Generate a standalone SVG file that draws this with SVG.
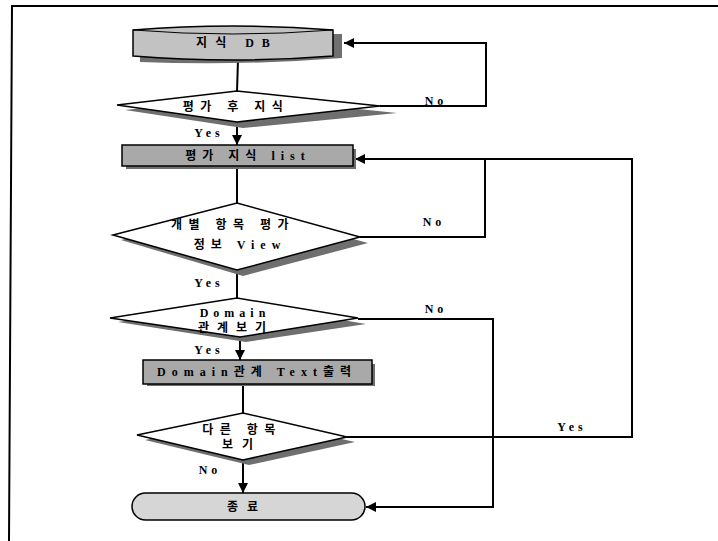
<svg xmlns="http://www.w3.org/2000/svg" width="718" height="541" viewBox="0 0 718 541">
<defs>
<style>
.ln{fill:none;stroke:#000;stroke-width:2}
.sh{fill:#6f6f6f;stroke:none}
.dm{fill:#fff;stroke:#000;stroke-width:1.5}
.bx{fill:#a9a9a9;stroke:#000;stroke-width:1.5}
.t{font-family:"Liberation Serif","Noto Sans CJK KR",serif;font-weight:bold;font-size:12px;fill:#000;text-anchor:middle;letter-spacing:6.5px}
.l{font-family:"Liberation Serif","Noto Sans CJK KR",serif;font-weight:bold;font-size:12px;fill:#000;text-anchor:middle;letter-spacing:4px}
</style>
<marker id="ah" viewBox="0 0 10 10" refX="10" refY="5" markerWidth="10" markerHeight="10" markerUnits="userSpaceOnUse" orient="auto">
<path d="M0,0 L10,5 L0,10 Z" fill="#000"/>
</marker>
</defs>
<rect width="718" height="541" fill="#fff"/>
<path d="M718,6 L12,6 L9,541" fill="none" stroke="#000" stroke-width="2"/>

<g id="connectors">
<path class="ln" d="M238,60 L237,91"/>
<path class="ln" d="M380,106 L486,106 L486,43 L344,43" marker-end="url(#ah)"/>
<path class="ln" d="M237,122 L237,145" marker-end="url(#ah)"/>
<path class="ln" d="M237,166 L237,203"/>
<path class="ln" d="M360,237 L485,237 L485,159"/>
<path class="ln" d="M347,437 L632,437 L632,159 L355,159" marker-end="url(#ah)"/>
<path class="ln" d="M237,270 L237,298"/>
<path class="ln" d="M240,337 L240,360" marker-end="url(#ah)"/>
<path class="ln" d="M358,319 L493,319 L493,507 L366,507" marker-end="url(#ah)"/>
<path class="ln" d="M243,385 L243,413"/>
<path class="ln" d="M243,460 L243,493" marker-end="url(#ah)"/>
<text class="l" x="436" y="105">No</text>
<text class="l" x="209" y="137">Yes</text>
<text class="l" x="434" y="226">No</text>
<text class="l" x="209" y="287">Yes</text>
<text class="l" x="436" y="313">No</text>
<text class="l" x="209" y="354">Yes</text>
<text class="l" x="572" y="431">Yes</text>
<text class="l" x="210" y="474">No</text>
</g>

<g id="db">
<path class="sh" d="M140,34 L342,34 L342,58 Q240,66 140,62 Z"/>
<path d="M133,30 Q233,22 333,30 L333,56 Q233,64 133,56 Z" fill="#c2c2c2" stroke="#000" stroke-width="1.5"/>
<path d="M133,30 Q233,38 333,30" fill="none" stroke="#000" stroke-width="1"/>
<text class="t" x="237" y="47" style="letter-spacing:8px">지식 DB</text>
</g>

<g id="decision1">
<polygon class="sh" points="125,110 243,97 397,113 243,128"/>
<polygon class="dm" points="117,105 237,91 380,106 237,122"/>
<text class="t" x="236" y="111">평가 후 지식</text>
</g>

<g id="list">
<rect class="sh" x="126" y="149" width="230" height="20"/>
<rect class="bx" x="122" y="145" width="231" height="21"/>
<text class="t" x="248" y="160" style="letter-spacing:6px">평가 지식 list</text>
</g>

<g id="decision2">
<polygon class="sh" points="121,240 243,209 368,243 243,276"/>
<polygon class="dm" points="113,235 237,203 360,237 237,270"/>
<text class="t" x="233" y="229">개별 항목 평가</text>
<text class="t" x="240" y="249" style="letter-spacing:6px">정보 View</text>
</g>

<g id="decision3">
<polygon class="sh" points="118,322 243,303 366,324 246,342"/>
<polygon class="dm" points="110,318 237,298 358,318 240,337"/>
<text class="t" x="235" y="317" style="letter-spacing:5px">Domain</text>
<text class="t" x="236" y="332" style="letter-spacing:8px">관계보기</text>
</g>

<g id="output">
<rect class="sh" x="147" y="364" width="228" height="22"/>
<rect class="bx" x="143" y="360" width="229" height="24"/>
<text class="t" x="257" y="376" style="letter-spacing:6px">Domain관계 Text출력</text>
</g>

<g id="decision4">
<polygon class="sh" points="145,440 249,418 355,442 249,465"/>
<polygon class="dm" points="137,435 243,413 347,437 243,460"/>
<text class="t" x="242" y="434">다른 항목</text>
<text class="t" x="242" y="449" style="letter-spacing:9px">보기</text>
</g>

<g id="end">
<rect x="132" y="493" width="233" height="27" rx="13.5" ry="13.5" fill="#d6d6d6" stroke="#000" stroke-width="1.5"/>
<text class="t" x="247" y="511" style="letter-spacing:9px">종료</text>
</g>
</svg>
